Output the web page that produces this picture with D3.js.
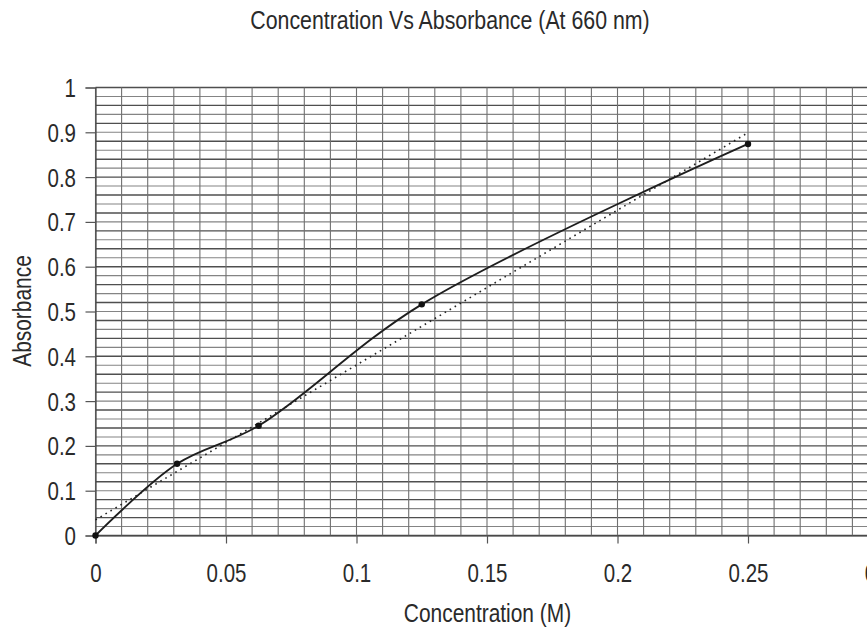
<!DOCTYPE html>
<html>
<head>
<meta charset="utf-8">
<script src="https://cdn.jsdelivr.net/npm/d3@7"></script>
<style>
  html, body { margin: 0; padding: 0; background: #fff; }
  svg { display: block; }
  text { font-family: "Liberation Sans Narrow", "Arial Narrow", "Liberation Sans", Arial, sans-serif; fill: #2a2a2a; }
</style>
</head>
<body>
<svg id="chart" width="867" height="628"></svg>
<script>
// ---- data ----
const concentration = [0, 0.03125, 0.0625, 0.125, 0.25];
const absorbance = [0, 0.16, 0.245, 0.516, 0.874];
const xTickValues = [0, 0.05, 0.1, 0.15, 0.2, 0.25, 0.3];
const xTickLabels = ["0", "0.05", "0.1", "0.15", "0.2", "0.25", "0.3"];
const yTickValues = [0, 0.1, 0.2, 0.3, 0.4, 0.5, 0.6, 0.7, 0.8, 0.9, 1];
const yTickLabels = ["0", "0.1", "0.2", "0.3", "0.4", "0.5", "0.6", "0.7", "0.8", "0.9", "1"];
const chartTitle = "Concentration Vs Absorbance (At 660 nm)";
const xTitle = "Concentration (M)";
const yTitle = "Absorbance";

const svg = d3.select("#chart");
const W = 867, H = 628;
svg.append("rect").attr("width", W).attr("height", H).attr("fill", "#fff");

const x = d3.scaleLinear().domain([0, 0.3]).range([95.5, 878.5]);
const y = d3.scaleLinear().domain([0, 1]).range([535.5, 87.5]);

// detect whether a narrow font is available
const probe = svg.append("text").attr("font-size", 100).text("00000000");
const probeW = probe.node().getComputedTextLength();
probe.remove();
const isNarrow = probeW < 400;
function squeeze(sel) {
  if (isNarrow) return;
  sel.each(function() {
    const len = this.getComputedTextLength();
    d3.select(this).attr("textLength", len * 0.82).attr("lengthAdjust", "spacingAndGlyphs");
  });
}

// ---- grid ----
const grid = svg.append("g");
const hLines = d3.range(0, 1.0001, 0.02);
grid.selectAll("line.h").data(hLines).join("line")
  .attr("x1", x(0)).attr("x2", x(0.3))
  .attr("y1", d => y(d)).attr("y2", d => y(d))
  .attr("stroke", (d, i) => i % 2 === 0 ? "#3c3c3c" : "#777")
  .attr("stroke-width", (d, i) => i % 2 === 0 ? 1.4 : 1.1)
  .attr("stroke-opacity", 0.9);
const vLines = d3.range(0, 0.3001, 0.01);
grid.selectAll("line.v").data(vLines).join("line")
  .attr("x1", d => x(d)).attr("x2", d => x(d))
  .attr("y1", y(1)).attr("y2", y(0))
  .attr("stroke", "#707070")
  .attr("stroke-width", 1.1);

// ---- axes ----
const yAxis = d3.axisLeft(y).tickValues(yTickValues).tickSize(10).tickPadding(10)
  .tickFormat((d, i) => yTickLabels[i]);
const gy = svg.append("g").attr("transform", `translate(${x(0)},0)`).call(yAxis);
gy.select(".domain").attr("stroke", "#444").attr("stroke-width", 1.2);
gy.selectAll(".tick line").attr("stroke", "#555").attr("stroke-width", 1.2);
gy.selectAll(".tick text").attr("font-size", 25).attr("fill", "#2a2a2a")
  .attr("font-family", null).attr("x", -19.5).attr("dy", "0.36em");
squeeze(gy.selectAll(".tick text"));

const xAxis = d3.axisBottom(x).tickValues(xTickValues).tickSize(8).tickPadding(22)
  .tickFormat((d, i) => xTickLabels[i]);
const gx = svg.append("g").attr("transform", `translate(0,${y(0)})`).call(xAxis);
gx.select(".domain").attr("stroke", "#444").attr("stroke-width", 1.2);
gx.selectAll(".tick line").attr("stroke", "#555").attr("stroke-width", 1.2);
gx.selectAll(".tick text").attr("font-size", 25).attr("fill", "#2a2a2a")
  .attr("font-family", null).attr("y", 29).attr("dy", "0.71em");
squeeze(gx.selectAll(".tick text"));

// ---- trendline (least squares through the data) ----
const mx = d3.mean(concentration), my = d3.mean(absorbance);
let sxy = 0, sxx = 0;
concentration.forEach((c, i) => { sxy += (c - mx) * (absorbance[i] - my); sxx += (c - mx) * (c - mx); });
const slope = sxy / sxx, intercept = my - slope * mx;
const xMin = d3.min(concentration), xMax = d3.max(concentration);
svg.append("line")
  .attr("x1", x(xMin)).attr("y1", y(intercept + slope * xMin))
  .attr("x2", x(xMax)).attr("y2", y(intercept + slope * xMax))
  .attr("stroke", "#222").attr("stroke-width", 1.6)
  .attr("stroke-dasharray", "1.6,4.2");

// ---- smoothed data line ----
const pts = concentration.map((c, i) => [c, absorbance[i]]);
const line = d3.line().x(d => x(d[0])).y(d => y(d[1])).curve(d3.curveCatmullRom.alpha(0.5));
svg.append("path").attr("d", line(pts))
  .attr("fill", "none").attr("stroke", "#1e1e1e").attr("stroke-width", 1.9);
svg.selectAll("circle.pt").data(pts).join("circle")
  .attr("cx", d => x(d[0])).attr("cy", d => y(d[1])).attr("r", 3.2)
  .attr("fill", "#111");

// ---- titles ----
const t = svg.append("text").attr("x", 450).attr("y", 29).attr("text-anchor", "middle")
  .attr("font-size", 26).text(chartTitle);
squeeze(t);
const xt = svg.append("text").attr("x", 487.5).attr("y", 622).attr("text-anchor", "middle")
  .attr("font-size", 25.5).text(xTitle);
squeeze(xt);
const yt = svg.append("text").attr("transform", "translate(31,311) rotate(-90)")
  .attr("text-anchor", "middle").attr("font-size", 25.5).text(yTitle);
squeeze(yt);
</script>
</body>
</html>
